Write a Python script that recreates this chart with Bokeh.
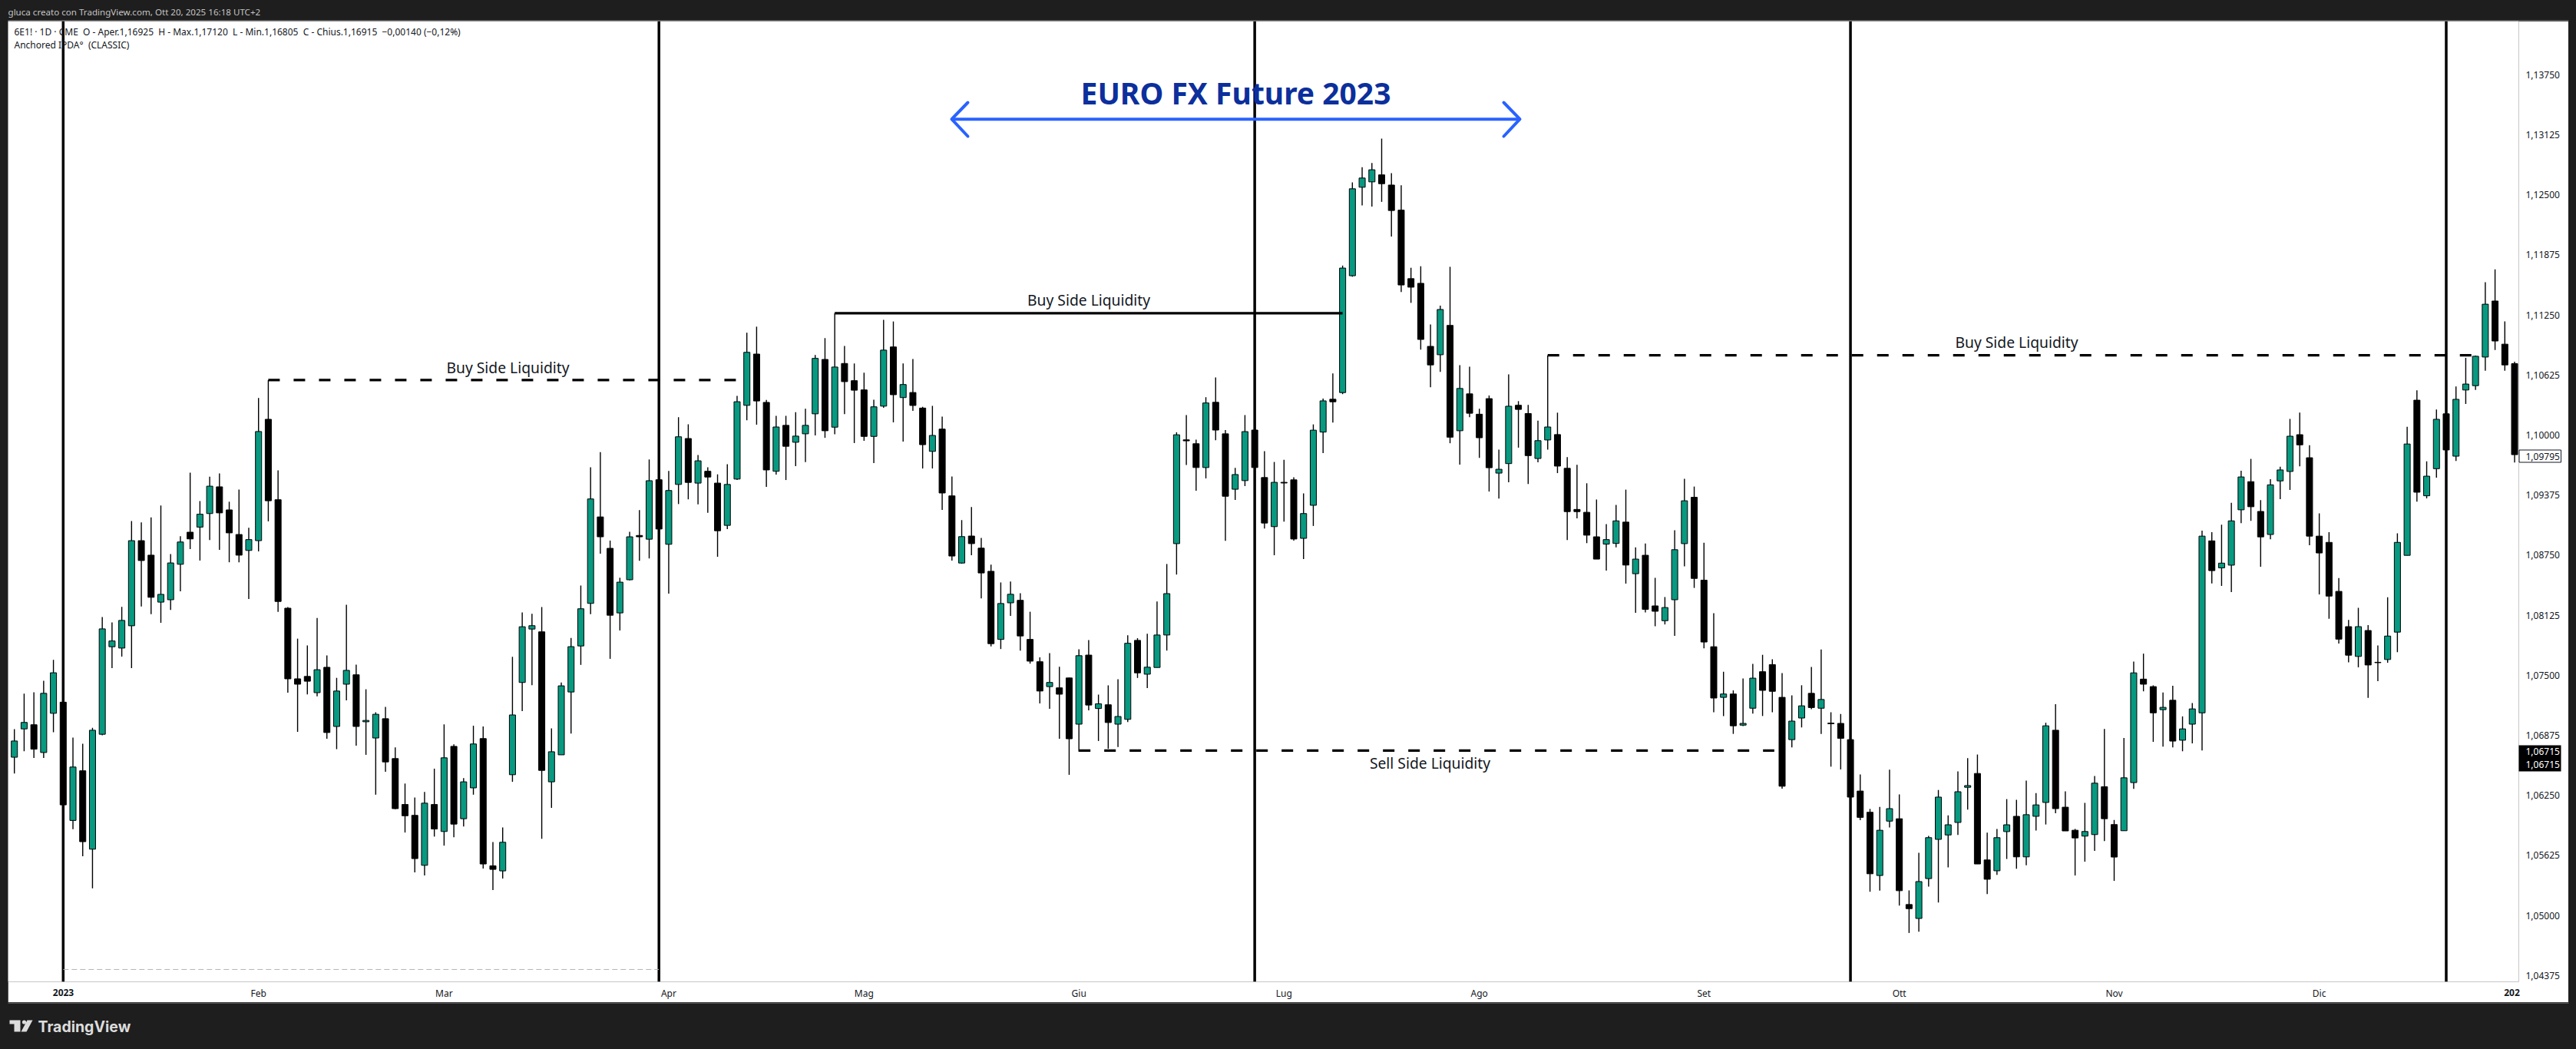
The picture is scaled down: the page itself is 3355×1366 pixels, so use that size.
from bokeh.embed import file_html
from bokeh.resources import INLINE
from bokeh.plotting import figure
from bokeh.layouts import column
from bokeh.models import Range1d, Span, Label, FixedTicker

opens = [
1.06646,1.06941,1.06984,1.06695,1.07103,1.07219,1.05988,1.06505,1.05689,1.06885,
1.07796,1.07782,1.08014,1.08900,1.08749,1.08260,1.08285,1.08654,1.08988,1.09041,
1.09182,1.09460,1.09220,1.08964,1.08798,1.08900,1.10163,1.09326,1.08197,1.07462,
1.07487,1.07318,1.07582,1.06966,1.07406,1.07504,1.07015,1.06846,1.07047,1.06632,
1.06154,1.06041,1.05521,1.06154,1.05873,1.06759,1.06006,1.06327,1.06840,1.05516,
1.05463,1.06464,1.07424,1.07980,1.07951,1.06390,1.06671,1.07325,1.07804,1.08247,
1.09147,1.08820,1.08148,1.08493,1.08954,1.08915,1.09534,1.08862,1.09485,1.09963,
1.09499,1.09622,1.09499,1.09059,1.09541,1.10308,1.10842,1.10339,1.09622,1.10100,
1.09924,1.10012,1.10220,1.10786,1.10081,1.10744,1.10565,1.10469,1.09985,1.10300,
1.10916,1.10389,1.10442,1.10280,1.09829,1.10061,1.09366,1.08667,1.08948,1.08822,
1.08581,1.07872,1.08253,1.08279,1.07872,1.07640,1.07381,1.07368,1.07471,1.06990,
1.07709,1.07153,1.07192,1.06990,1.07040,1.07862,1.07510,1.07580,1.07918,1.08869,
1.09949,1.09909,1.09661,1.10340,1.10012,1.09435,1.09525,1.10051,1.09557,1.09046,
1.09507,1.09533,1.08924,1.09268,1.10030,1.10372,1.10441,1.11657,1.12578,1.12634,
1.12707,1.12601,1.12340,1.11627,1.11578,1.10922,1.10835,1.11140,1.10044,1.10428,
1.10216,1.10378,1.09603,1.09702,1.10309,1.10223,1.09755,1.09948,1.10004,1.09653,
1.09225,1.09195,1.08940,1.08864,1.08871,1.09093,1.08556,1.08748,1.08221,1.08067,
1.08285,1.08869,1.09351,1.08489,1.07796,1.07269,1.07304,1.06980,1.07156,1.07536,
1.07610,1.07269,1.06829,1.07054,1.07311,1.07156,1.07001,1.06998,1.06829,1.06294,
1.06073,1.05415,1.05981,1.06006,1.05113,1.04968,1.05383,1.05791,1.05837,1.05967,
1.06333,1.06477,1.05577,1.05464,1.05872,1.06031,1.05609,1.06031,1.06175,1.06927,
1.06126,1.05886,1.05825,1.05841,1.06339,1.05945,1.05881,1.06382,1.07459,1.07381,
1.07141,1.07239,1.06823,1.06990,1.07108,1.08898,1.08617,1.08645,1.09221,1.09514,
1.09204,1.08964,1.09522,1.09620,1.10003,1.09763,1.08947,1.08882,1.08372,1.08005,
1.07695,1.07965,1.07634,1.07663,1.07948,1.08747,1.10362,1.09367,1.09649,1.10220,
1.09779,1.10468,1.10513,1.10811,1.11394,1.10945,1.10742,
]
highs = [
1.06938,1.07307,1.07321,1.07441,1.07659,1.07219,1.06850,1.06787,1.06952,1.08106,
1.08049,1.08211,1.09104,1.09090,1.09143,1.09266,1.08760,1.08946,1.09607,1.09312,
1.09565,1.09600,1.09305,1.09431,1.09034,1.10385,1.10571,1.09632,1.08208,1.07880,
1.07810,1.08095,1.07705,1.07472,1.08232,1.07610,1.07353,1.07114,1.07170,1.06748,
1.06372,1.06227,1.06284,1.06527,1.06988,1.06780,1.06429,1.06974,1.06967,1.05764,
1.05915,1.07691,1.08152,1.08138,1.08208,1.06946,1.07424,1.07888,1.08433,1.09664,
1.09822,1.08901,1.08514,1.08992,1.09218,1.09745,1.09534,1.09625,1.10185,1.10111,
1.09791,1.09664,1.09590,1.09696,1.10406,1.11064,1.11127,1.10364,1.10199,1.10199,
1.10237,1.10273,1.10832,1.11008,1.11267,1.10926,1.10744,1.10648,1.10366,1.11198,
1.11181,1.10744,1.10790,1.10293,1.10303,1.10191,1.09568,1.09114,1.09250,1.08928,
1.08650,1.08465,1.08475,1.08352,1.08160,1.07686,1.07729,1.07587,1.07474,1.07769,
1.07865,1.07298,1.07394,1.07457,1.07915,1.07885,1.07931,1.08266,1.08657,1.10028,
1.10207,1.09952,1.10393,1.10598,1.10051,1.09657,1.10207,1.10051,1.09832,1.09719,
1.09742,1.09560,1.09391,1.10110,1.10378,1.10640,1.11763,1.12628,1.12787,1.12830,
1.13085,1.12724,1.12598,1.11740,1.11756,1.11150,1.11346,1.11750,1.10726,1.10710,
1.10272,1.10411,1.09848,1.10630,1.10352,1.10312,1.10150,1.10829,1.10232,1.09769,
1.09689,1.09497,1.09328,1.09073,1.09272,1.09431,1.08831,1.08871,1.08513,1.08313,
1.09009,1.09544,1.09463,1.08879,1.08144,1.07536,1.07342,1.07466,1.07617,1.07712,
1.07666,1.07522,1.07290,1.07395,1.07585,1.07768,1.07114,1.07096,1.06829,1.06467,
1.06108,1.06129,1.06516,1.06259,1.05260,1.05651,1.05827,1.06305,1.06041,1.06498,
1.06636,1.06674,1.05862,1.05900,1.06210,1.06203,1.06403,1.06273,1.07005,1.07198,
1.06291,1.05900,1.06171,1.06451,1.06941,1.05993,1.06847,1.07642,1.07724,1.07394,
1.07320,1.07389,1.07071,1.07210,1.09004,1.08988,1.09066,1.09294,1.09628,1.09751,
1.09322,1.09539,1.09669,1.10167,1.10232,1.09893,1.09184,1.08988,1.08511,1.08075,
1.08201,1.08022,1.07810,1.08311,1.08976,1.10085,1.10464,1.09726,1.10264,1.10220,
1.10505,1.10803,1.10827,1.11590,1.11724,1.11182,1.10762,
]
lows = [
1.06477,1.06709,1.06639,1.06639,1.06906,1.06150,1.05897,1.05616,1.05281,1.06875,
1.07574,1.07694,1.07574,1.08215,1.08134,1.08046,1.08179,1.08373,1.08812,1.08693,
1.08907,1.08805,1.08675,1.08675,1.08292,1.08788,1.09101,1.08158,1.07318,1.06910,
1.07300,1.07279,1.06839,1.06730,1.07237,1.06766,1.06671,1.06256,1.06495,1.06104,
1.05862,1.05447,1.05415,1.05820,1.05726,1.05814,1.05926,1.06256,1.05487,1.05263,
1.05383,1.06390,1.07125,1.07396,1.05798,1.06118,1.06671,1.06893,1.07607,1.08134,
1.08764,1.07670,1.07965,1.08486,1.08690,1.08715,1.09021,1.08349,1.09281,1.09330,
1.09277,1.09189,1.08732,1.09021,1.09531,1.10153,1.10107,1.09460,1.09587,1.09531,
1.09675,1.09717,1.09995,1.09970,1.10008,1.10217,1.09916,1.09939,1.09707,1.10283,
1.10131,1.09932,1.10250,1.09651,1.09651,1.09220,1.08693,1.08660,1.08749,1.08299,
1.07799,1.07772,1.08117,1.07756,1.07620,1.07206,1.07149,1.06838,1.06463,1.06705,
1.07133,1.06815,1.06735,1.06752,1.07013,1.07471,1.07365,1.07580,1.07756,1.08547,
1.09687,1.09419,1.09548,1.09945,1.08899,1.09323,1.09468,1.09661,1.09027,1.08748,
1.09099,1.08901,1.08708,1.09053,1.09812,1.10130,1.10425,1.11647,1.12389,1.12376,
1.12426,1.12065,1.11488,1.11375,1.10888,1.10497,1.10657,1.09914,1.09692,1.10186,
1.09762,1.09411,1.09338,1.09507,1.09868,1.09490,1.09716,1.09848,1.09603,1.08907,
1.09133,1.08874,1.08708,1.08589,1.08831,1.08453,1.08149,1.08152,1.08009,1.08028,
1.07909,1.08633,1.08408,1.07779,1.07114,1.07075,1.06889,1.06970,1.07100,1.07075,
1.07114,1.06319,1.06748,1.06956,1.07145,1.06889,1.06548,1.06519,1.06231,1.05992,
1.05246,1.05257,1.05915,1.05102,1.04817,1.04831,1.05299,1.05134,1.05500,1.05837,
1.06101,1.05535,1.05222,1.05422,1.05587,1.05485,1.05521,1.05883,1.05946,1.06062,
1.05879,1.05415,1.05559,1.05671,1.05774,1.05359,1.05881,1.06317,1.07332,1.06806,
1.06757,1.06749,1.06708,1.06790,1.06717,1.08454,1.08429,1.08364,1.09082,1.09106,
1.08629,1.08915,1.09331,1.09428,1.09673,1.08853,1.08340,1.08087,1.07830,1.07634,
1.07581,1.07263,1.07438,1.07630,1.07740,1.08747,1.09306,1.09339,1.09555,1.09844,
1.09730,1.10322,1.10468,1.10668,1.10884,1.10668,1.09714,
]
closes = [
1.06815,1.07008,1.06730,1.07311,1.07525,1.06150,1.06544,1.05767,1.06927,1.07982,
1.07856,1.08070,1.08900,1.08693,1.08310,1.08341,1.08668,1.08886,1.08918,1.09175,
1.09467,1.09189,1.08981,1.08749,1.08911,1.10036,1.09315,1.08267,1.07462,1.07406,
1.07437,1.07557,1.06903,1.07335,1.07550,1.06966,1.07029,1.07093,1.06597,1.06111,
1.06037,1.05591,1.06168,1.05899,1.06640,1.05950,1.06390,1.06784,1.05535,1.05479,
1.05761,1.07086,1.08004,1.08015,1.06509,1.06703,1.07389,1.07797,1.08191,1.09334,
1.08940,1.08124,1.08468,1.08940,1.08940,1.09524,1.09021,1.09422,1.09981,1.09506,
1.09731,1.09562,1.09003,1.09485,1.10346,1.10860,1.10354,1.09636,1.10083,1.09882,
1.09988,1.10100,1.10797,1.10044,1.10707,1.10555,1.10466,1.09985,1.10293,1.10883,
1.10419,1.10525,1.10307,1.09899,1.09995,1.09396,1.08740,1.08942,1.08869,1.08564,
1.07828,1.08246,1.08342,1.07908,1.07646,1.07335,1.07424,1.07302,1.06838,1.07703,
1.07189,1.07202,1.07007,1.07070,1.07832,1.07524,1.07583,1.07918,1.08349,1.10002,
1.09939,1.09661,1.10333,1.10051,1.09362,1.09588,1.10035,1.09661,1.09083,1.09507,
1.09500,1.08917,1.09182,1.10050,1.10355,1.10345,1.11737,1.12562,1.12674,1.12760,
1.12615,1.12336,1.11561,1.11538,1.10994,1.10729,1.11306,1.09977,1.10484,1.10226,
1.09971,1.09659,1.09643,1.10299,1.10266,1.09785,1.09941,1.10083,1.09676,1.09202,
1.09202,1.08957,1.08708,1.08911,1.09106,1.08646,1.08708,1.08185,1.08165,1.08204,
1.08806,1.09315,1.08507,1.07845,1.07262,1.07304,1.06973,1.06998,1.07469,1.07342,
1.07332,1.06344,1.07022,1.07181,1.07163,1.07247,1.06994,1.06843,1.06231,1.06020,
1.05433,1.05886,1.06111,1.05257,1.05070,1.05352,1.05809,1.06231,1.05943,1.06287,
1.06351,1.05535,1.05376,1.05809,1.05943,1.05609,1.06048,1.06150,1.06973,1.06111,
1.05879,1.05806,1.05873,1.06376,1.06006,1.05607,1.06432,1.07524,1.07406,1.07108,
1.07165,1.06814,1.06941,1.07149,1.08947,1.08588,1.08666,1.09106,1.09563,1.09253,
1.08939,1.09481,1.09636,1.09987,1.09897,1.08947,1.08772,1.08323,1.07875,1.07708,
1.08005,1.07606,1.07630,1.07907,1.08882,1.09906,1.09404,1.09571,1.10163,1.09844,
1.10371,1.10530,1.10819,1.11361,1.10978,1.10729,1.09795,
]

price_ticks = [1.04375, 1.05, 1.05625, 1.0625, 1.06875, 1.075, 1.08125, 1.0875, 1.09375, 1.1,
               1.10625, 1.1125, 1.11875, 1.125, 1.13125, 1.1375]
month_labels = ["Feb", "Mar", "Apr", "Mag", "Giu", "Lug", "Ago", "Set", "Ott", "Nov", "Dic"]
month_bars = [25, 44, 67, 87, 109, 130, 150, 173, 193, 215, 236]
quarter_bars = [5, 66, 127, 188, 249]
buy_1 = 1.10571
buy_2 = 1.11267
buy_3 = 1.10829
sell_1 = 1.06715
anchored = 1.04437
last_price = 1.09795

BG = "#1e1e1e"
GREEN = "#089981"
STEP = 12.72
X0 = 18.2
PPU = 12512.0
def X(px):
    return (px - X0) / STEP
def Y(py):
    return 1.05625 + (1113.3 - py) / PPU

FONT = "Noto Sans"
INK = "#131722"

# header band
header = figure(width=3355, height=27, x_range=Range1d(0, 3355), y_range=Range1d(27, 0),
                output_backend="svg", toolbar_location=None, x_axis_location=None,
                y_axis_location=None, min_border=0, outline_line_color=None,
                background_fill_color=BG, border_fill_color=BG, frame_align=False)
header.grid.visible = False
header.add_layout(Label(x=10, y=14.7, text="gluca creato con TradingView.com, Ott 20, 2025 16:18 UTC+2",
                        text_color="#c4c4c4", text_font=FONT, text_font_size="11.6px",
                        text_baseline="middle"))
header.line([10, 3345], [26.5, 26.5], line_color="#8c8c8c", line_width=1)

# main chart
p = figure(width=3335, height=1278, x_range=Range1d(X(10), X(3280)), y_range=Range1d(Y(1278), Y(27)),
           output_backend="svg", toolbar_location=None, x_axis_location="below", y_axis_location="right",
           min_border_left=0, min_border_top=0, min_border_right=65, min_border_bottom=27,
           outline_line_color=None, background_fill_color="white", border_fill_color="white",
           margin=(0, 10, 0, 10), frame_align=False)
p.grid.visible = False

p.yaxis.ticker = FixedTicker(ticks=price_ticks)
p.yaxis.major_label_overrides = {t: f"{t:.5f}".replace(".", ",") for t in price_ticks}
p.yaxis.major_label_text_font = FONT
p.yaxis.major_label_text_font_size = "12px"
p.yaxis.major_label_text_color = INK
p.yaxis.major_label_standoff = 9
p.yaxis.axis_line_color = None
p.yaxis.major_tick_line_color = None
p.yaxis.minor_tick_line_color = None
p.yaxis.major_tick_out = 0
p.yaxis.major_tick_in = 0
p.yaxis.minor_tick_out = 0
p.yaxis.minor_tick_in = 0

p.xaxis.ticker = FixedTicker(ticks=month_bars)
p.xaxis.major_label_overrides = dict(zip(month_bars, month_labels))
p.xaxis.major_label_text_font = FONT
p.xaxis.major_label_text_font_size = "12px"
p.xaxis.major_label_text_color = INK
p.xaxis.major_label_standoff = 6
p.xaxis.axis_line_color = None
p.xaxis.major_tick_line_color = None
p.xaxis.minor_tick_line_color = None
p.xaxis.major_tick_out = 0
p.xaxis.major_tick_in = 0
p.xaxis.minor_tick_out = 0
p.xaxis.minor_tick_in = 0

for q in quarter_bars:
    p.add_layout(Span(location=q, dimension="height", line_color="black", line_width=3.5, level="underlay"))

idx = list(range(len(opens)))
up = [i for i in idx if closes[i] >= opens[i]]
dn = [i for i in idx if closes[i] < opens[i]]
p.segment(idx, highs, idx, lows, line_color="black", line_width=1.4)
p.vbar(up, width=0.63, top=[closes[i] for i in up], bottom=[opens[i] for i in up],
       fill_color=GREEN, line_color="black", line_width=1)
p.vbar(dn, width=0.63, top=[opens[i] for i in dn], bottom=[closes[i] for i in dn],
       fill_color="black", line_color="black", line_width=1)

# liquidity levels
DASH = "15 18"
p.line([26, 74], [buy_1, buy_1], line_color="black", line_width=3.2, line_dash=DASH)
p.line([84, 136], [buy_2, buy_2], line_color="black", line_width=3.2)
p.line([157, 251.6], [buy_3, buy_3], line_color="black", line_width=3.2, line_dash=DASH)
p.line([109, 180.2], [sell_1, sell_1], line_color="black", line_width=3.2, line_dash=DASH)
p.line([5, 66], [anchored, anchored], line_color="#b4b4b4", line_width=1, line_dash="7 4")

def note(x, y, text):
    p.add_layout(Label(x=x, y=y, text=text, text_font=FONT, text_font_size="19.3px", text_color=INK,
                       text_align="center", text_baseline="middle"))
note(X(661), Y(478), "Buy Side Liquidity")
note(X(1417.6), Y(390), "Buy Side Liquidity")
note(X(2626), Y(445), "Buy Side Liquidity")
note(X(1862), Y(993), "Sell Side Liquidity")

# title and arrow
ARROW = "#2962ff"
ax0, ax1, ay = X(1239), X(1979), Y(154.7)
p.line([ax0, ax1], [ay, ay], line_color=ARROW, line_width=4)
p.line([X(1260), X(1239), X(1260)], [Y(133), ay, Y(177)], line_color=ARROW, line_width=4, line_cap="round", line_join="round")
p.line([X(1958), X(1979), X(1958)], [Y(133), ay, Y(177)], line_color=ARROW, line_width=4, line_cap="round", line_join="round")
p.add_layout(Label(x=X(1609), y=Y(120), text="EURO FX Future 2023", text_font=FONT, text_font_size="39px",
                   text_font_style="bold", text_color="#0c2f9c", text_align="center", text_baseline="middle"))

# legend lines
NB = "\u00a0\u00a0"
p.add_layout(Label(x=X(18), y=Y(41), text=f"6E1! · 1D · CME{NB}O - Aper.1,16925{NB}H - Max.1,17120{NB}L - Min.1,16805{NB}C - Chius.1,16915{NB}−0,00140 (−0,12%)",
                   text_font=FONT, text_font_size="12px", text_color=INK, text_baseline="middle"))
p.add_layout(Label(x=X(18), y=Y(58), text=f"Anchored IPDA°{NB}(CLASSIC)",
                   text_font=FONT, text_font_size="12px", text_color=INK, text_baseline="middle"))

# transparent sheet over the main chart, for the tags that sit on its two scales
sheet = figure(width=3335, height=1278, x_range=Range1d(10, 3345), y_range=Range1d(1305, 27),
               output_backend="svg", toolbar_location=None, x_axis_location=None,
               y_axis_location=None, min_border=0, outline_line_color=None,
               background_fill_color=None, border_fill_color=None,
               margin=(-1278, 10, 0, 10), frame_align=False)
sheet.grid.visible = False
sheet.quad(left=[3280.5], right=[3335], top=[585.5], bottom=[601.5], fill_color="white", line_color=INK, line_width=1)
sheet.quad(left=[3280], right=[3335], top=[970], bottom=[1004], fill_color="black", line_color=None)

def scale_tag(px, py, text, color=INK, align="left", style="normal"):
    sheet.add_layout(Label(x=px, y=py, text=text, text_font=FONT, text_font_size="12px", text_color=color,
                           text_baseline="middle", text_align=align, text_font_style=style))
scale_tag(82, 1291.7, "2023", align="center", style="bold")
scale_tag(3271, 1291.7, "202", align="center", style="bold")
scale_tag(3289, 593.5, "1,09795")
scale_tag(3289, 978, "1,06715", color="white")
scale_tag(3289, 994.5, "1,06715", color="white")

# footer band
footer = figure(width=3355, height=61, x_range=Range1d(0, 3355), y_range=Range1d(1366, 1305),
                output_backend="svg", toolbar_location=None, x_axis_location=None,
                y_axis_location=None, min_border=0, outline_line_color=None,
                background_fill_color=BG, border_fill_color=BG, frame_align=False)
footer.grid.visible = False
LOGO = "#dcdcdc"
footer.line([10, 3345], [1305.5, 1305.5], line_color="#8c8c8c", line_width=1)
footer.patch([12, 26, 26, 18, 18, 12], [1328, 1328, 1343, 1343, 1333, 1333], fill_color=LOGO, line_color=None)
footer.circle([31], [1330.5], radius=2.6, fill_color=LOGO, line_color=None)
footer.patch([35, 42, 34, 27], [1328, 1328, 1343, 1343], fill_color=LOGO, line_color=None)
footer.add_layout(Label(x=49, y=1336.5, text="TradingView", text_font="Inter", text_font_size="19.5px",
                        text_font_style="bold", text_color=LOGO, text_baseline="middle"))

layout = column(header, p, sheet, footer, spacing=0)
html = file_html(layout, INLINE)
html = html.replace("<head>", "<head><style>html,body{background:#1e1e1e}</style>", 1)
open("out.html", "w").write(html)
